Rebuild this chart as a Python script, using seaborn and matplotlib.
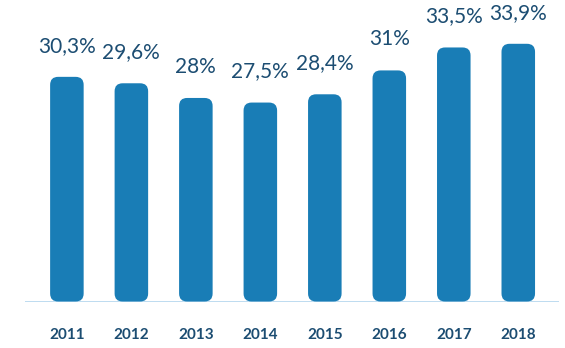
import matplotlib
matplotlib.use("Agg")
import matplotlib.pyplot as plt
import seaborn as sns
import pandas as pd
from matplotlib.patches import FancyBboxPatch

# Data
years = ["2011", "2012", "2013", "2014", "2015", "2016", "2017", "2018"]
shares = [30.3, 29.6, 28.0, 27.5, 28.4, 31.0, 33.5, 33.9]
share_labels = ["30,3%", "29,6%", "28%", "27,5%", "28,4%", "31%", "33,5%", "33,9%"]

BAR = "#197db6"
TEXT = "#1c4d72"
LINE = "#b3d6ee"

sns.set_theme(style="white")
plt.rcParams["font.family"] = ["Lato", "DejaVu Sans"]

fig = plt.figure(figsize=(5.65, 3.48), dpi=100)
ax = fig.add_axes([0.0442, 0.1336, 0.945, 0.8664])

df = pd.DataFrame({"year": years, "share": shares})
sns.barplot(data=df, x="year", y="share", color=BAR, saturation=1,
            width=0.52, ax=ax)

base = 5.83
ax.set_ylim(base, 38.67)
ax.set_xlim(-0.65, 7.63)

# Replace square bars with rounded ones standing on the baseline
fig.canvas.draw()
(x0p, y0p), (x1p, y1p) = ax.transData.transform([(0, 0), (1, 1)])
px_per_x = abs(x1p - x0p)
px_per_y = abs(y1p - y0p)
radius_px = 8
rx = radius_px / px_per_x
ry = radius_px / px_per_y

for p in list(ax.patches):
    x, w, h = p.get_x(), p.get_width(), p.get_height()
    p.remove()
    ax.add_patch(FancyBboxPatch(
        (x, base), w, h - base,
        boxstyle=f"round,pad=0,rounding_size={rx}",
        mutation_aspect=ry / rx,
        facecolor=BAR, edgecolor="none", zorder=2, clip_on=False))

ax.axhline(base, color=LINE, lw=1.2, zorder=1)

for i, (v, lab) in enumerate(zip(shares, share_labels)):
    ax.annotate(lab, (i, v), xytext=(0, 18), textcoords="offset points",
                ha="center", va="baseline", fontsize=15, color=TEXT)

sns.despine(ax=ax, left=True, bottom=True)
ax.set_yticks([])
ax.set_xlabel("")
ax.set_ylabel("")
ax.tick_params(axis="x", length=0, pad=19, labelsize=11, labelcolor=TEXT)
for t in ax.get_xticklabels():
    t.set_fontweight("bold")

fig.savefig("out.png", dpi=100)
